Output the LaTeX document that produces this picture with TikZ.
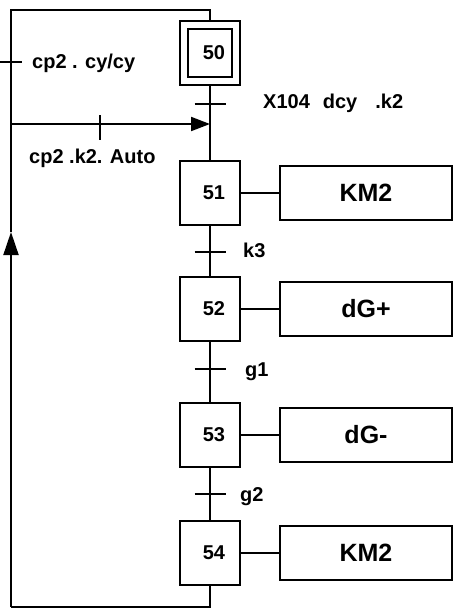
\documentclass[tikz,border=0pt]{standalone}
\usepackage{fontspec}
\setmainfont{Liberation Sans}
\usetikzlibrary{arrows.meta,positioning}
\tikzset{
  stepbox/.style={draw=black,fill=white,line width=2pt,
                  minimum width=60pt,minimum height=64pt,inner sep=0pt,
                  font=\fontsize{20}{20}\selectfont\bfseries,
                  execute at begin node=\hspace*{8pt}},
  initbox/.style={stepbox,double,double distance=6pt,
                  minimum width=52pt,minimum height=56pt,outer sep=4pt},
  actbox/.style={draw=black,fill=white,line width=2pt,
                 minimum width=172pt,minimum height=54pt,inner sep=0pt,
                 font=\fontsize{25}{25}\selectfont\bfseries},
  link/.style={line width=2pt},
  trans/.style={line width=2pt},
  cond/.style={anchor=base west,inner sep=0pt,
               font=\fontsize{20}{20}\selectfont\bfseries},
  grafarr/.style={-{Triangle[length=19pt,width=14pt]},line width=2pt}
}

\begin{document}
\begin{tikzpicture}[x=1pt,y=-1pt]
  \useasboundingbox (0,0) rectangle (453,608);
  % steps
  \node[initbox] (s50) at (210,53) {50};
  \node[stepbox] (s51) at (210,193) {51};
  \node[stepbox] (s52) at (210,309) {52};
  \node[stepbox] (s53) at (210,435) {53};
  \node[stepbox] (s54) at (210,553) {54};
  % actions
  \node[actbox,right=38pt of s51] (a51) {KM2};
  \node[actbox,right=38pt of s52] (a52) {dG+};
  \node[actbox,right=38pt of s53] (a53) {dG-};
  \node[actbox,right=38pt of s54] (a54) {KM2};
  \foreach \s in {51,52,53,54}
    \draw[link] (s\s.east) -- (a\s.west);
  % main line
  \draw[link] (s50.south) -- (s51.north);
  \draw[link] (s51.south) -- (s52.north);
  \draw[link] (s52.south) -- (s53.north);
  \draw[link] (s53.south) -- (s54.north);
  % transitions
  \coordinate (t0) at (210,104);
  \coordinate (t1) at (210,252);
  \coordinate (t2) at (210,369);
  \coordinate (t3) at (210,494);
  \foreach \t in {t0,t1,t2,t3}
    \draw[trans] ([xshift=-15.5pt]\t) -- ([xshift=15.5pt]\t);
  \node[cond] (c0) at (263,108) {X104\hspace{13pt}dcy\hspace{18pt}.k2};
  \node[cond] (c1) at (243,257) {k3};
  \node[cond] (c2) at (245,376) {g1};
  \node[cond] (c3) at (240,501) {g2};
  % loop back
  \coordinate (bl) at (11,607);
  \coordinate (up) at (11,232);
  \coordinate (tl) at (11,10);
  \draw[link] (s54.south) |- (bl);
  \draw[link,-{Triangle[length=23pt,width=15pt]}] (bl) -- (up);
  \draw[link] (up) -- (tl) -| (s50.north);
  \coordinate (tc) at (11,62);
  \draw[trans] ([xshift=-11pt]tc) -- ([xshift=11pt]tc);
  \node[cond] (c4) at (32,68) {cp2 . cy/cy};
  % branch to 51
  \coordinate (br) at (11,124);
  \coordinate (jn) at (210,124);
  \draw[grafarr] (br) -- (jn);
  \coordinate (tb) at (100,124);
  \draw[trans] ([yshift=9pt]tb) -- ([yshift=-16pt]tb);
  \node[cond] (c5) at (29,163) {cp2 .k2. Auto};
\end{tikzpicture}
\end{document}
